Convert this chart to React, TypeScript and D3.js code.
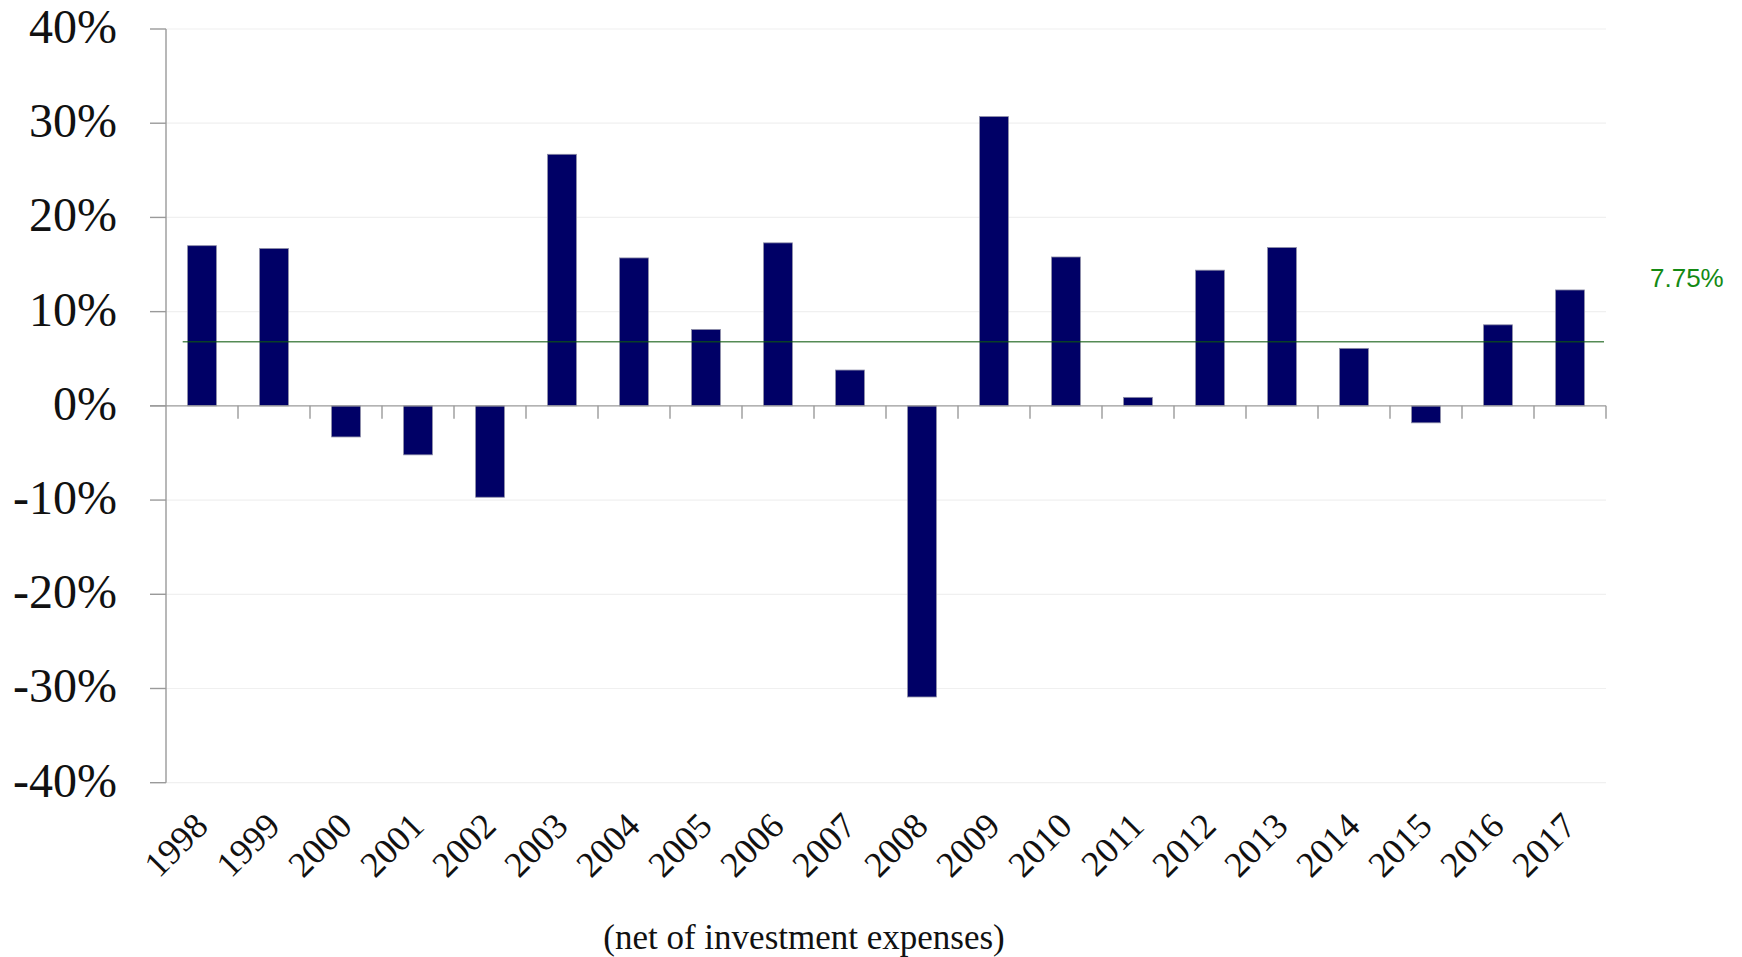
import React from "react";
import * as d3 from "d3";

const years = ["1998","1999","2000","2001","2002","2003","2004","2005","2006","2007","2008","2009","2010","2011","2012","2013","2014","2015","2016","2017"];
const returns = [17.0, 16.7, -3.3, -5.2, -9.7, 26.7, 15.7, 8.1, 17.3, 3.8, -30.9, 30.7, 15.8, 0.9, 14.4, 16.8, 6.1, -1.8, 8.6, 12.3];
const yTicks = [40, 30, 20, 10, 0, -10, -20, -30, -40];
const referenceLine = 6.8;
const referenceLabel = "7.75%";
const caption = "(net of investment expenses)";

const W = 1742;
const H = 957;

export default function App() {
  const band = d3.scaleBand<string>().domain(years).range([166, 1606]);
  const y = d3.scaleLinear().domain([-40, 40]).range([782.7, 29]);
  const serif = "'Liberation Serif', 'DejaVu Serif', serif";
  const sans = "'Liberation Sans', Arial, sans-serif";
  const axisColor = "#9a9a9a";
  const step = band.step();

  return (
    <svg width={W} height={H} style={{ position: "absolute", left: 0, top: 0, background: "#fff" }}>
      {yTicks.filter(t => t !== 0).map(t => (
        <line key={"g" + t} x1={166} x2={1606} y1={y(t)} y2={y(t)} stroke="#f0f0f0" strokeWidth={1.2} />
      ))}
      {returns.map((v, i) => {
        const bw = step * 0.4;
        const cx = band(years[i])! + step / 2;
        return (
          <rect key={years[i]} x={cx - bw / 2} y={y(Math.max(0, v))} width={bw}
            height={Math.abs(y(v) - y(0))} fill="#000066" stroke="#8c8ca6" strokeWidth={0.8} />
        );
      })}
      <line x1={166} x2={166} y1={y(40)} y2={y(-40)} stroke={axisColor} strokeWidth={1.4} />
      {yTicks.map(t => (
        <g key={"t" + t}>
          <line x1={150} x2={166} y1={y(t)} y2={y(t)} stroke={axisColor} strokeWidth={1.4} />
          <text x={117} y={y(t) + 14} textAnchor="end" fontFamily={serif} fontSize={48} fill="#111">{t}%</text>
        </g>
      ))}
      <line x1={150} x2={1606} y1={y(0)} y2={y(0)} stroke={axisColor} strokeWidth={1.4} />
      {years.map(yr => {
        const tx = band(yr)! + step;
        return <line key={"xt" + yr} x1={tx} x2={tx} y1={y(0)} y2={y(0) + 13} stroke={axisColor} strokeWidth={1.4} />;
      })}
      <line x1={182.7} x2={1604} y1={y(referenceLine)} y2={y(referenceLine)} stroke="#0d5a0d" strokeOpacity={0.7} strokeWidth={1.6} />
      <text x={1650} y={287} fontFamily={sans} fontSize={26} fill="#148a14">{referenceLabel}</text>
      {years.map(yr => {
        const cx = band(yr)! + step / 2 + 8;
        return (
          <text key={"xl" + yr} transform={`translate(${cx},828) rotate(-45)`} textAnchor="end"
            fontFamily={serif} fontSize={36} fill="#111">{yr}</text>
        );
      })}
      <text x={804} y={949} textAnchor="middle" fontFamily={serif} fontSize={35} fill="#111">{caption}</text>
    </svg>
  );
}
